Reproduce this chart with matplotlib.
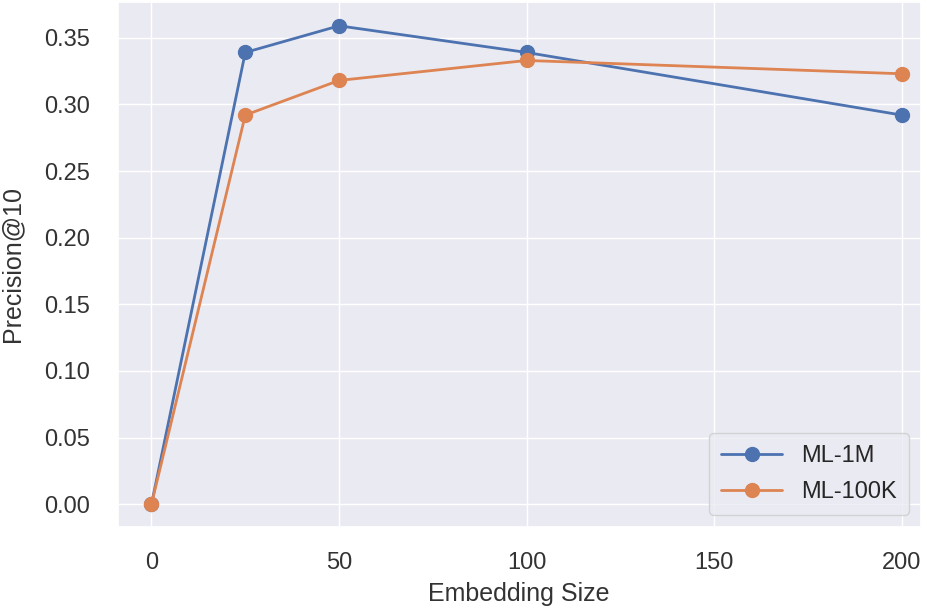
import matplotlib
matplotlib.use("Agg")
import matplotlib.pyplot as plt
import seaborn as sns

sns.set_theme(style="darkgrid")
plt.rcParams['font.family'] = ['Liberation Sans', 'DejaVu Sans']

emb_sizes = [0, 25, 50, 100, 200]
ml_1m = [0.0, 0.339, 0.359, 0.339, 0.292]
ml_100k = [0.0, 0.292, 0.318, 0.333, 0.323]

fig, ax = plt.subplots(figsize=(9.27, 6.09), dpi=100)
ax.plot(emb_sizes, ml_1m, marker='o', markersize=10, linewidth=2, color='#4c72b0', label='ML-1M')
ax.plot(emb_sizes, ml_100k, marker='o', markersize=10, linewidth=2, color='#dd8452', label='ML-100K')
ax.set_xlabel('Embedding Size', fontsize=18, color='#333333', labelpad=6)
ax.set_ylabel('Precision@10', fontsize=18, color='#333333', labelpad=14)
ax.set_xticks([0, 50, 100, 150, 200])
ax.set_yticks([0.0, 0.05, 0.10, 0.15, 0.20, 0.25, 0.30, 0.35])
ax.set_yticklabels([f'{v:.2f}' for v in [0.0, 0.05, 0.10, 0.15, 0.20, 0.25, 0.30, 0.35]])
ax.tick_params(labelsize=17, labelcolor='#333333')
ax.tick_params(axis='y', pad=14)
ax.tick_params(axis='x', pad=12)
ax.set_xlim(-9, 205)
ax.set_ylim(-0.017, 0.377)
leg = ax.legend(loc='lower right', fontsize=17, borderpad=0.5, labelspacing=0.6,
                handlelength=2.6, bbox_to_anchor=(1.0, 0.0))
fig.subplots_adjust(left=0.127, right=0.993, top=0.997, bottom=0.135)
fig.savefig('out.png')
